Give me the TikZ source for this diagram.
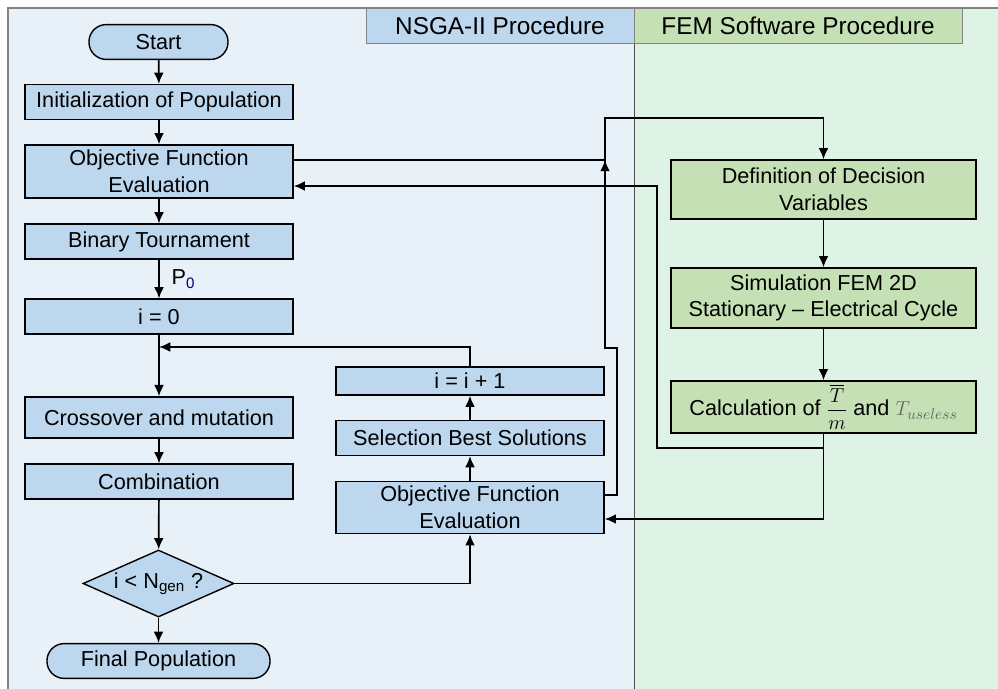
\documentclass[tikz,border=0pt]{standalone}
\usepackage{amsmath}
\usepackage{fontspec}
\setmainfont{Liberation Sans}
\usepackage{tikz}
\definecolor{leftbg}{RGB}{232, 240, 248}
\definecolor{rightbg}{RGB}{222, 242, 230}
\definecolor{bb}{RGB}{189, 215, 238}
\definecolor{gg}{RGB}{197, 224, 180}
\definecolor{frame}{RGB}{130, 130, 130}
\usetikzlibrary{positioning,shapes.geometric,arrows.meta}
\def\lwidth{6.7cm}
\def\mwidth{6.7cm}
\def\rwidth{7.625cm}
\def\height{0.87cm}
\tikzset{
  blue box/.style={draw,rectangle,fill=bb,line width=1pt,align=center,inner sep=0pt,minimum width=\lwidth,minimum height=\height},
  green box/.style={draw,rectangle,fill=gg,line width=1pt,align=center,inner sep=0pt,minimum width=\rwidth},
  term/.style={draw,rectangle,rounded corners=0.43cm,fill=bb,line width=1pt,inner sep=0pt,minimum height=\height},
  flow/.style={->,line width=1.2pt}
}

\begin{document}
\begin{tikzpicture}[x=0.025cm,y=-0.025cm,>={Latex[length=8pt,width=7pt]},font=\fontsize{15.4}{19}\selectfont]
\useasboundingbox (0,0) rectangle (998,689);
% lanes
\fill[leftbg] (8,8) rectangle (634,689);
\fill[rightbg] (634,8) rectangle (998,689);
\draw[frame,line width=0.8pt] (8,689) -- (8,8) -- (998,8);
\draw[black!70,line width=0.5pt] (634,8) -- (634,689);
\node[draw=frame,fill=bb,minimum width=6.7cm,minimum height=0.875cm,inner sep=0pt,font=\fontsize{17.3}{20}\selectfont] (nsga) at (500,25.5) {NSGA-II Procedure};
\node[draw=frame,fill=gg,minimum width=8.2cm,minimum height=0.875cm,inner sep=0pt,font=\fontsize{17.3}{20}\selectfont] (fem) at (798,25.5) {FEM Software Procedure};

% NSGA-II column
\node[term,minimum width=3.475cm] (start) at (158.5,42) {Start};
\node[blue box] (init) at (159,102) {Initialization of Population};
\node[blue box,minimum height=1.325cm] (ofe1) at (159,171.5) {Objective Function\\Evaluation};
\node[blue box] (bint) at (159,241.5) {Binary Tournament};
\node[blue box] (izero) at (159,316.5) {i = 0};
\node[blue box,minimum height=1.03cm] (cross) at (159,417.5) {Crossover and mutation};
\node[blue box] (comb) at (159,481.5) {Combination};
\node[draw,diamond,fill=bb,line width=1pt,inner sep=0pt,aspect=2.25,minimum width=3.775cm,minimum height=1.675cm] (test) at (158.5,583.5) {i < N\textsubscript{gen} ?};
\node[term,minimum width=5.575cm] (final) at (158.5,661) {Final Population};

\node[blue box,minimum height=0.7cm] (inc) at (470,381) {i = i + 1};
\node[blue box] (sel) at (470,438) {Selection Best Solutions};
\node[blue box,minimum height=1.3cm] (ofe2) at (470,507.5) {Objective Function\\Evaluation};

% FEM column
\node[green box,minimum height=1.475cm] (def) at (823.5,189.5) {Definition of Decision\\Variables};
\node[green box,minimum height=1.5cm] (sim) at (823.5,298) {Simulation FEM 2D\\Stationary -- Electrical Cycle};
\node[green box,minimum height=1.3cm] (calc) at (823.5,407) {Calculation of $\dfrac{\overline{T}}{m}$ and {\color{black!60}$T_{useless}$}};

% helper points
\coordinate (jn) at (159,347);
\coordinate (m0) at (605,172);
\coordinate (m1) at (605,160);
\coordinate (a1) at (617,495);
\coordinate (a2) at (617,348);
\coordinate (a3) at (605,348);
\coordinate (a4) at (605,118);
\coordinate (b1) at (823.5,519);
\coordinate (b2) at (823.5,448);
\coordinate (b3) at (657,448);
\coordinate (b4) at (657,186);

\draw[flow] (start) -- (init);
\draw[flow] (init) -- (ofe1);
\draw[flow] (ofe1) -- (bint);
\draw[flow] (bint) -- node[right=5pt] {P\textsubscript{\color{blue!45!black}0}} (izero);
\draw[flow] (izero) -- (cross);
\draw[flow] (cross) -- (comb);
\draw[flow] (comb) -- (test);
\draw[flow] (test) -- (final);
\draw[flow] (test) -| (ofe2);
\draw[flow] (ofe2) -- (sel);
\draw[flow] (sel) -- (inc);
\draw[flow] (inc) |- (jn);

\draw[line width=1.2pt] (ofe1.east |- m1) -- (m1);
\draw[flow] (m0) -- (m1);
\draw[flow] (ofe2.east |- a1) -- (a1) -- (a2) -- (a3) -- (a4) -| (def);
\draw[flow] (def) -- (sim);
\draw[flow] (sim) -- (calc);
\draw[flow] (calc) -- (b1) -- (ofe2.east |- b1);
\draw[flow] (b2) -- (b3) -- (b4) -- (ofe1.east |- b4);
\end{tikzpicture}
\end{document}
